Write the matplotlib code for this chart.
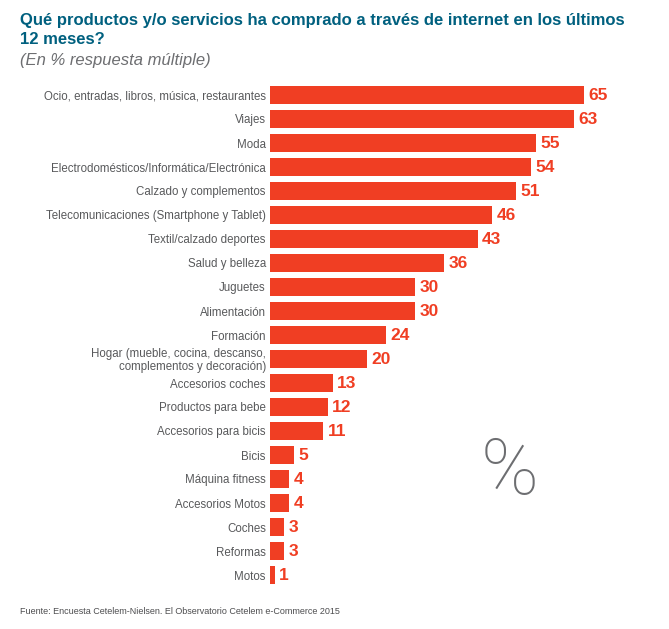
import matplotlib
matplotlib.use("Agg")
import matplotlib.pyplot as plt

# -- Data --------------------------------------------------------------
categories = [
    "Ocio, entradas, libros, música, restaurantes",
    "Viajes",
    "Moda",
    "Electrodomésticos/Informática/Electrónica",
    "Calzado y complementos",
    "Telecomunicaciones (Smartphone y Tablet)",
    "Textil/calzado deportes",
    "Salud y belleza",
    "Juguetes",
    "Alimentación",
    "Formación",
    "Hogar (mueble, cocina, descanso,\ncomplementos y decoración)",
    "Accesorios coches",
    "Productos para bebe",
    "Accesorios para bicis",
    "Bicis",
    "Máquina fitness",
    "Accesorios Motos",
    "Coches",
    "Reformas",
    "Motos",
]
values = [65, 63, 55, 54, 51, 46, 43, 36, 30, 30, 24, 20, 13, 12, 11, 5, 4, 4, 3, 3, 1]

BAR_COLOR = "#f03e23"
TITLE_COLOR = "#00607f"
LABEL_COLOR = "#58595b"

plt.rcParams["font.family"] = ["Liberation Sans", "DejaVu Sans"]

W, H = 669, 629
fig = plt.figure(figsize=(W / 100, H / 100), dpi=100)

# axes placed in pixel terms: bars start at x=270, 4.83 px per unit
ax = fig.add_axes([270 / W, 1 - 587 / H, (70 * 4.83) / W, (587 - 83) / H])

y = list(range(len(categories)))
ax.barh(y, values, height=0.75, color=BAR_COLOR)
ax.set_ylim(len(categories) - 0.5, -0.5)
ax.set_xlim(0, 70)

for yi, v in zip(y, values):
    ax.text(v + 0.9, yi, str(v), va="center", ha="left", fontsize=12.5,
            fontweight="bold", color=BAR_COLOR)

ax.set_yticks(y)
ax.set_yticklabels(categories, fontsize=8.3, color=LABEL_COLOR, linespacing=1.1)
ax.tick_params(axis="y", length=0, pad=3)
ax.set_xticks([])
for s in ax.spines.values():
    s.set_visible(False)

# -- Texts -------------------------------------------------------------
fig.text(20 / W, 1 - 21 / H, "Qué productos y/o servicios ha comprado a través de internet en los últimos",
         fontsize=12, fontweight="bold", color=TITLE_COLOR, va="center", ha="left")
fig.text(20 / W, 1 - 39 / H, "12 meses?",
         fontsize=12, fontweight="bold", color=TITLE_COLOR, va="center", ha="left")
fig.text(20 / W, 1 - 60 / H, "(En % respuesta múltiple)",
         fontsize=12, fontstyle="italic", color="#6d6e71", va="center", ha="left")
fig.text(20 / W, 1 - 612 / H, "Fuente: Encuesta Cetelem-Nielsen. El Observatorio Cetelem e-Commerce 2015",
         fontsize=6.5, color="#4d4d4f", va="center", ha="left")

fig.text(510 / W, 1 - 473 / H, "%", fontsize=56, color="#6d6e71",
         family=["Roboto", "DejaVu Sans"], fontweight="light", ha="center", va="center")

fig.savefig("out.png", dpi=100)
